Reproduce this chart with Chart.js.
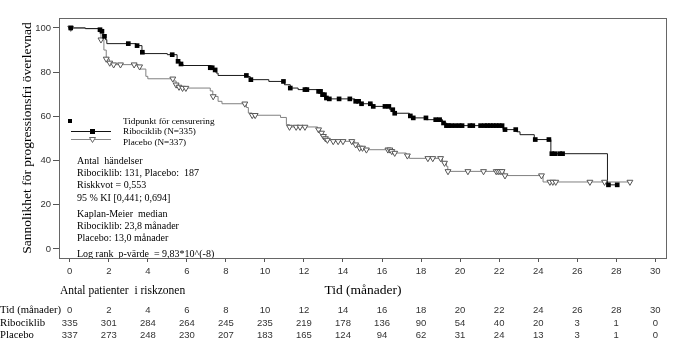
<!DOCTYPE html>
<html><head><meta charset="utf-8">
<script src="https://cdn.jsdelivr.net/npm/chart.js@4/dist/chart.umd.min.js"></script>
<style>html,body{margin:0;padding:0;background:#fff}#wrap{width:687px;height:357px;position:relative}</style>
</head><body><div id="wrap"><canvas id="c"></canvas></div>
<script>
// ---- data ----
const xTicks = [0,2,4,6,8,10,12,14,16,18,20,22,24,26,28,30];
const yTicks = [0,20,40,60,80,100];
const riboTimes = [0,0.8,1.5,1.6,1.7,1.83,1.9,3.4,3.7,3.8,5.0,5.5,5.65,5.8,7.2,7.35,7.5,7.6,9.1,9.25,10.2,11.0,11.3,11.7,12.7,12.9,13.06,13.2,14.6,14.9,15.5,16.4,16.6,17.4,17.5,18.27,19.1,19.3,22.2,22.9,23.07,23.8,24.65,27.55,28.1];
const riboSurv  = [100,99.7,99.2,98.5,96.2,94.7,92.9,92.0,89.0,88.4,87.9,84.9,83.7,83.0,82.0,81.0,79.6,78.5,78.0,76.6,75.8,74.3,72.8,72.1,71.3,69.8,68.3,67.9,66.8,65.7,64.5,63.0,61.4,60.2,59.3,58.5,57.0,55.8,54.0,53.0,51.7,49.5,43.1,29.0,29.0];
const placeboTimes = [0,0.8,1.5,1.6,1.75,1.87,2.03,2.2,3.5,3.6,3.9,4.0,5.3,5.45,5.6,5.75,7.2,7.33,7.6,7.8,9.05,9.15,9.35,10.8,11.1,11.26,12.7,12.85,12.97,13.1,13.2,13.5,14.6,14.85,15.1,16.5,16.64,17.24,17.4,19.1,19.3,19.37,22.25,24.25,28.7];
const placeboSurv  = [100,99.7,99.0,94.7,90.0,86.0,84.2,83.4,82.5,81.4,78.1,77.0,76.0,74.3,73.3,72.8,71.5,69.0,66.8,65.7,64.0,61.5,60.5,59.5,56.2,55.2,54.0,52.5,51.0,50.0,49.3,48.7,47.2,45.7,44.9,44.2,43.4,42.2,41.0,38.9,37.4,35.1,33.2,30.3,30.3];
const riboCensor = [0.05,1.55,1.65,1.78,3.0,3.45,3.72,5.25,5.55,5.7,7.2,7.3,7.45,9.05,9.28,10.95,11.3,12.05,12.15,12.75,12.85,12.95,13.05,13.15,13.3,13.8,14.35,14.65,14.8,14.95,15.4,15.55,16.15,16.35,16.55,16.65,17.45,17.6,18.25,18.75,18.95,19.15,19.3,19.4,19.55,19.75,19.95,20.1,20.5,20.65,21.05,21.25,21.4,21.55,21.7,21.85,22.0,22.15,22.3,22.85,23.85,24.55,24.7,24.85,25.1,25.25,27.6,28.05];
const placeboCensor = [0.05,1.6,1.87,2.05,2.25,2.6,3.3,3.58,5.28,5.45,5.6,5.78,5.95,7.35,8.97,9.35,9.5,11.26,11.6,11.8,12.05,12.75,12.9,13.0,13.1,13.2,13.5,13.75,14.0,14.45,14.65,14.85,15.0,15.2,16.3,16.4,16.5,16.65,17.3,18.35,18.6,19.0,19.2,19.38,20.4,21.2,21.85,21.95,22.05,22.15,22.3,24.17,24.6,24.75,24.9,26.65,27.4,28.7];
const riskTimes = [0,2,4,6,8,10,12,14,16,18,20,22,24,26,28,30];
const riskRibo = [335,301,284,264,245,235,219,178,136,90,54,40,20,3,1,0];
const riskPlacebo = [337,273,248,230,207,183,165,124,94,62,31,24,13,3,1,0];
const seriesNames = ['Ribociklib (N=335)','Placebo (N=337)'];
const riskRowLabels = ['Tid (månader)','Ribociklib','Placebo'];
const censorLabel = 'Tidpunkt för censurering';
const statLines = ['Antal  händelser','Ribociklib: 131, Placebo:  187','Riskkvot = 0,553','95 % KI [0,441; 0,694]','Kaplan-Meier  median','Ribociklib: 23,8 månader','Placebo: 13,0 månader','Log rank  p-värde  = 9,83*10^(-8)'];
const xTitle = 'Tid (månader)';
const yTitle = 'Sannolikhet för progressionsfri överlevnad';
const riskTitle = 'Antal patienter  i riskzonen';

function survAt(times, surv, t){ let v = surv[0]; for(let i=0;i<times.length;i++){ if(times[i]<=t) v=surv[i]; else break; } return v; }

const SERIF = '"Liberation Serif", "Times New Roman", serif';
const SANS = '"Liberation Sans", Arial, sans-serif';

const overlay = {
  id:'overlay',
  beforeDatasetsDraw(chart){
    const ctx = chart.ctx; ctx.save();
    // legend
    ctx.fillStyle='#000';
    ctx.fillRect(68,119,4,4);
    ctx.strokeStyle='#111'; ctx.lineWidth=1;
    ctx.beginPath(); ctx.moveTo(71,131.5); ctx.lineTo(111,131.5); ctx.stroke();
    ctx.fillRect(90,129,5,5);
    ctx.strokeStyle='#888';
    ctx.beginPath(); ctx.moveTo(71,139.5); ctx.lineTo(111,139.5); ctx.stroke();
    ctx.fillStyle='#fff'; ctx.strokeStyle='#666';
    ctx.beginPath(); ctx.moveTo(89.5,137.5); ctx.lineTo(95.5,137.5); ctx.lineTo(92.5,142.5); ctx.closePath(); ctx.fill(); ctx.stroke();
    ctx.fillStyle='#000'; ctx.textBaseline='middle'; ctx.textAlign='left';
    ctx.font='9.2px '+SERIF;
    ctx.fillText(censorLabel,123,121.5);
    ctx.fillText(seriesNames[0],123,132);
    ctx.fillText(seriesNames[1],123,142.5);
    ctx.font='10px '+SERIF;
    const ys=[161.7,173,185.7,198.3,214,226.5,238.8,254.3];
    statLines.forEach((s,i)=>ctx.fillText(s,77,ys[i]));
    ctx.restore();
  },
  afterDraw(chart){
    const ctx = chart.ctx, a = chart.chartArea, xs = chart.scales.x;
    ctx.save();
    ctx.strokeStyle='#666'; ctx.lineWidth=1;
    ctx.strokeRect(a.left+0.5,a.top+0.5,a.right-a.left-1,a.bottom-a.top);
    ctx.fillStyle='#000'; ctx.textBaseline='middle';
    ctx.font='11.5px '+SERIF; ctx.textAlign='left';
    ctx.fillText(riskTitle,60,291);
    ctx.font='10.7px '+SERIF;
    const rowY=[310,323,335.5];
    riskRowLabels.forEach((s,i)=>ctx.fillText(s,0,rowY[i]));
    ctx.font='9.5px '+SANS; ctx.textAlign='center'; ctx.fillStyle='#333';
    riskTimes.forEach((t,i)=>{
      const x = xs.getPixelForValue(t);
      ctx.fillText(String(t),x,rowY[0]);
      ctx.fillText(String(riskRibo[i]),x,rowY[1]);
      ctx.fillText(String(riskPlacebo[i]),x,rowY[2]);
    });
    ctx.restore();
  }
};

new Chart(document.getElementById('c'),{
  type:'line',
  data:{datasets:[
    {label:'Ribociklib censur',data:riboCensor.map(t=>({x:t,y:survAt(riboTimes,riboSurv,t)})),showLine:false,pointStyle:'rect',pointRadius:3.3,backgroundColor:'#000',borderColor:'#000',borderWidth:0},
    {label:'Placebo censur',data:placeboCensor.map(t=>({x:t,y:survAt(placeboTimes,placeboSurv,t)})),showLine:false,pointStyle:'triangle',pointRotation:180,pointRadius:3.4,backgroundColor:'#fff',borderColor:'#555',borderWidth:1},
    {label:seriesNames[0],data:riboTimes.map((t,i)=>({x:t,y:riboSurv[i]})),stepped:true,borderColor:'#1a1a1a',borderWidth:1,pointRadius:0,fill:false},
    {label:seriesNames[1],data:placeboTimes.map((t,i)=>({x:t,y:placeboSurv[i]})),stepped:true,borderColor:'#808080',borderWidth:1,pointRadius:0,fill:false}
  ]},
  options:{
    responsive:true,maintainAspectRatio:false,animation:false,events:[],
    layout:{padding:{top:18,right:20,left:0,bottom:0}},
    plugins:{legend:{display:false},tooltip:{enabled:false}},
    scales:{
      x:{type:'linear',min:-0.55,max:30.6,
        afterBuildTicks:s=>{s.ticks=xTicks.map(v=>({value:v}));},
        afterFit:s=>{s.height=99;},
        grid:{display:true,drawOnChartArea:false,drawTicks:true,tickLength:4,color:'#555'},
        border:{display:false},
        ticks:{padding:4,color:'#333',font:{family:SANS,size:9.5},maxRotation:0,autoSkip:false},
        title:{display:true,text:xTitle,color:'#000',font:{family:SERIF,size:13.5},padding:{top:0,bottom:58}}
      },
      y:{type:'linear',min:-4.1,max:104.5,
        afterBuildTicks:s=>{s.ticks=yTicks.map(v=>({value:v}));},
        afterFit:s=>{s.width=59;},
        grid:{display:true,drawOnChartArea:false,drawTicks:true,tickLength:6,color:'#555'},
        border:{display:false},
        ticks:{padding:2,color:'#333',font:{family:SANS,size:9.5},autoSkip:false},
        title:{display:true,text:yTitle,color:'#000',font:{family:SERIF,size:13.5},padding:{top:19,bottom:0}}
      }
    }
  },
  plugins:[overlay]
});
</script>
</body></html>
